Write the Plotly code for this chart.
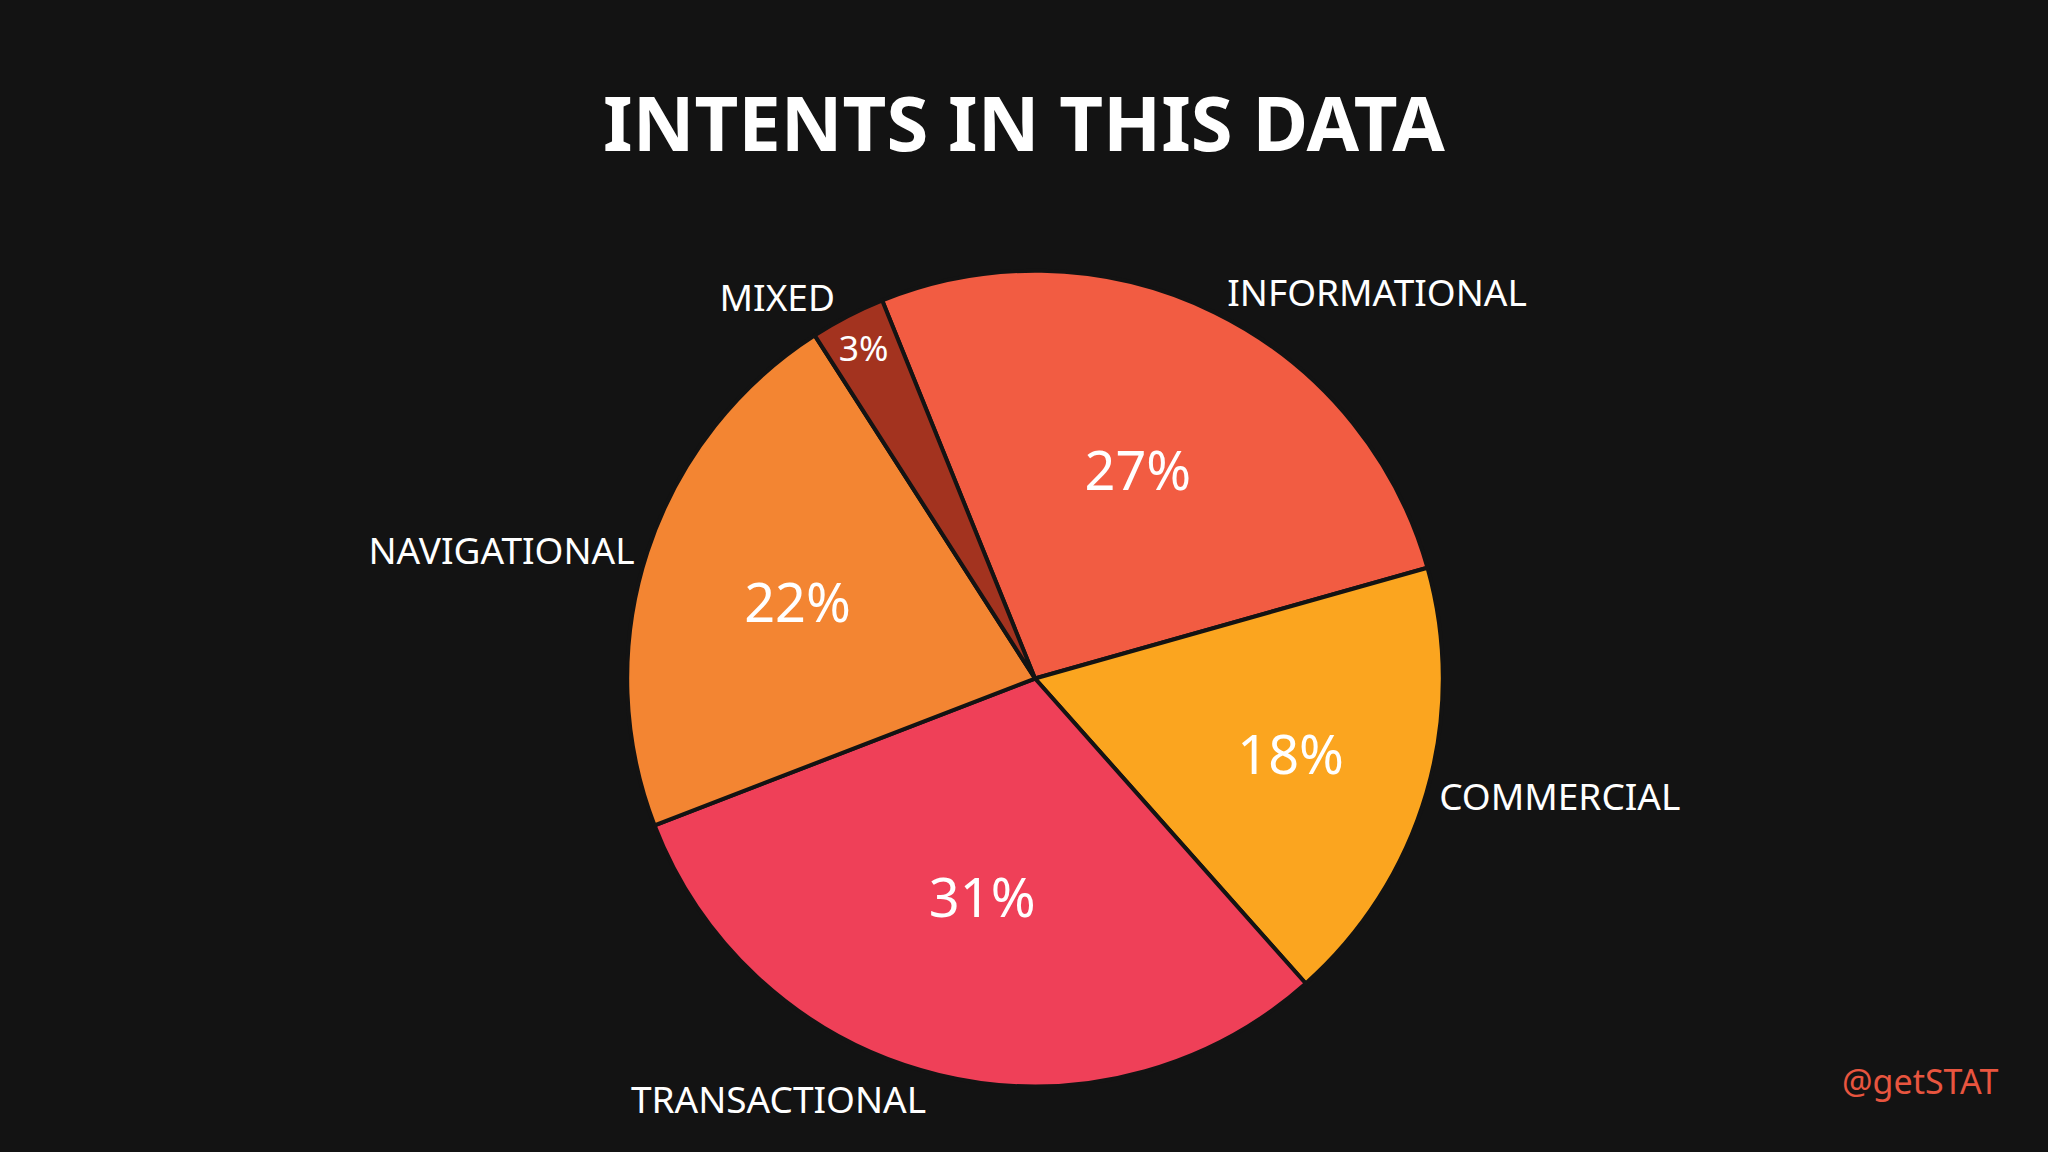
import plotly.graph_objects as go

intents = ["INFORMATIONAL", "COMMERCIAL", "TRANSACTIONAL", "NAVIGATIONAL", "MIXED"]
shares = [27, 18, 31, 22, 3]
colors = ["#F25C42", "#FBA51F", "#EF4058", "#F38532", "#A3331F"]

dom = dict(x=[0.02, 0.98], y=[0.057, 0.765])

fig = go.Figure()
# outer category labels (transparent copy)
fig.add_trace(go.Pie(
    labels=intents, values=shares, sort=False, direction="clockwise", rotation=-22,
    marker=dict(colors=["rgba(0,0,0,0)"] * 5, line=dict(width=0)),
    texttemplate="%{label}", textposition="outside",
    outsidetextfont=dict(color="white", size=37, family="Noto Sans"),
    showlegend=False, hoverinfo="skip", domain=dom,
))
# the pie itself with percentages inside
fig.add_trace(go.Pie(
    labels=intents, values=shares, sort=False, direction="clockwise", rotation=-22,
    marker=dict(colors=colors, line=dict(color="#131313", width=4)),
    texttemplate="%{value}%", textposition="inside", insidetextorientation="horizontal",
    insidetextfont=dict(color="white", size=54, family="Noto Sans"),
    showlegend=False, domain=dom,
))

fig.update_layout(
    width=2048, height=1152,
    paper_bgcolor="#131313", plot_bgcolor="#131313",
    margin=dict(l=0, r=0, t=0, b=0),
    title=dict(text="<b>INTENTS IN THIS DATA</b>", x=0.5, y=0.915, xanchor="center",
               font=dict(color="white", size=76, family="Noto Sans")),
    annotations=[dict(text="@getSTAT", x=0.975, y=0.04, xref="paper", yref="paper",
                      xanchor="right", showarrow=False, xshift=391,
                      font=dict(color="#E8553F", size=34, family="Noto Sans"))],
)

fig.write_html("out.html", config={"displayModeBar": False},
               post_script="document.body.style.margin='0';document.body.style.background='#131313';")
